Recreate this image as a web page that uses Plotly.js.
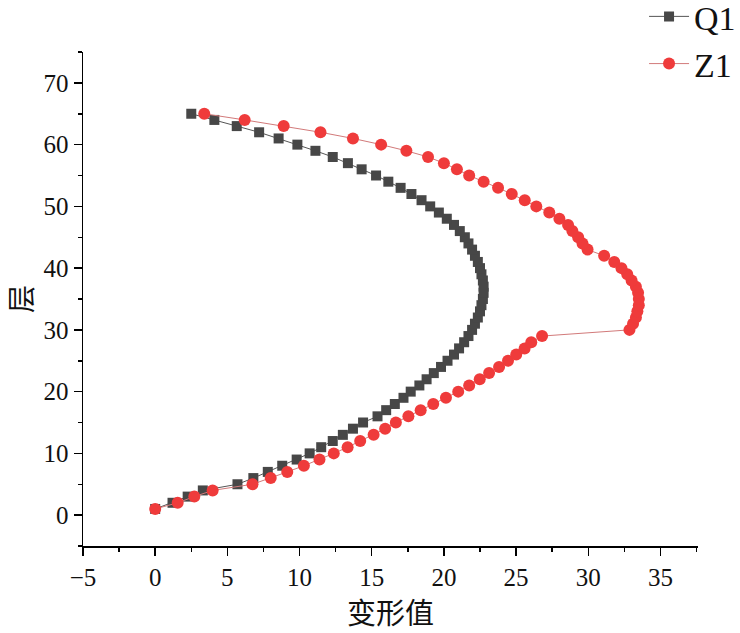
<!DOCTYPE html>
<html>
<head>
<meta charset="utf-8">
<script src="https://cdn.plot.ly/plotly-3.0.1.min.js"></script>
<style>html,body{margin:0;padding:0;background:#fff;}#chart{width:740px;height:633px;}</style>
</head>
<body>
<div id="chart"></div>
<script>
const layers = [];
for (let i = 1; i <= 65; i++) layers.push(i);

const q1Values = [0, 1.2, 2.25, 3.3, 5.7, 6.8, 7.8, 8.8, 9.8, 10.7,
  11.5, 12.3, 13.0, 13.7, 14.4, 15.4, 16.0, 16.6, 17.2, 17.7,
  18.3, 18.8, 19.3, 19.8, 20.25, 20.7, 21.05, 21.4, 21.7, 21.95,
  22.15, 22.35, 22.5, 22.6, 22.7, 22.75, 22.75, 22.7, 22.6, 22.5,
  22.35, 22.15, 21.95, 21.7, 21.45, 21.1, 20.7, 20.2, 19.65, 19.05,
  18.45, 17.75, 17.0, 16.15, 15.3, 14.3, 13.35, 12.3, 11.1, 9.85,
  8.55, 7.2, 5.65, 4.1, 2.5];

const z1Values = [0, 1.56, 2.71, 3.98, 6.74, 8.0, 9.15, 10.3, 11.38, 12.37,
  13.33, 14.2, 15.13, 15.93, 16.67, 17.54, 18.39, 19.26, 20.14, 20.99,
  21.75, 22.48, 23.13, 23.82, 24.44, 25.01, 25.59, 26.05, 26.8, 32.85,
  33.1, 33.3, 33.4, 33.5, 33.5, 33.45, 33.3, 33.0, 32.7, 32.3,
  31.8, 31.1, 29.95, 29.6, 29.3, 28.9, 28.6, 28.0, 27.3, 26.4,
  25.6, 24.7, 23.75, 22.75, 21.75, 20.9, 20.0, 18.9, 17.4, 15.65,
  13.7, 11.45, 8.9, 6.2, 3.4];

const seriesNames = ['Q1', 'Z1'];
const xTitle = '变形值';
const yTitle = '层';

const serif = '"Liberation Serif", "DejaVu Serif", serif';
const cjk = '"Noto Sans CJK SC", sans-serif';

const traces = [
  {
    x: q1Values, y: layers, name: seriesNames[0], type: 'scatter', mode: 'lines+markers',
    line: {color: '#555555', width: 1},
    marker: {symbol: 'square', size: 10, color: '#474747'}
  },
  {
    x: z1Values, y: layers, name: seriesNames[1], type: 'scatter', mode: 'lines+markers',
    line: {color: '#d27a7a', width: 1},
    marker: {symbol: 'circle', size: 12, color: '#ef3b3b'}
  }
];

const layout = {
  width: 740, height: 633,
  margin: {l: 83, r: 42, t: 52, b: 87, autoexpand: false},
  paper_bgcolor: '#ffffff', plot_bgcolor: '#ffffff',
  showlegend: true,
  legend: {
    x: 1.07, xanchor: 'right', y: 1.13, yanchor: 'top',
    font: {family: serif, size: 34, color: '#111'},
    bgcolor: 'rgba(0,0,0,0)', tracegroupgap: 0, itemwidth: 40
  },
  xaxis: {
    range: [-5, 37.6], tickvals: [-5, 0, 5, 10, 15, 20, 25, 30, 35],
    ticktext: ['\u22125', '0', '5', '10', '15', '20', '25', '30', '35'],
    showgrid: false, zeroline: false, showline: true, linecolor: '#000', linewidth: 1.5,
    ticks: 'outside', ticklen: 8, tickwidth: 1.5, tickcolor: '#000',
    minor: {dtick: 2.5, tick0: 0, ticks: 'outside', ticklen: 4, tickwidth: 1.5, tickcolor: '#000'},
    tickfont: {family: serif, size: 25, color: '#111'},
    title: {text: xTitle, font: {family: cjk, size: 29, color: '#111'}, standoff: 10}
  },
  yaxis: {
    range: [-5, 75], tickvals: [0, 10, 20, 30, 40, 50, 60, 70],
    showgrid: false, zeroline: false, showline: true, linecolor: '#000', linewidth: 1.5,
    ticks: 'outside', ticklen: 8, tickwidth: 1.5, tickcolor: '#000',
    minor: {dtick: 5, tick0: 0, ticks: 'outside', ticklen: 4, tickwidth: 1.5, tickcolor: '#000'},
    tickfont: {family: serif, size: 25, color: '#111'},
    title: {text: yTitle, font: {family: cjk, size: 28, color: '#111'}, standoff: 9}
  }
};

Plotly.newPlot('chart', traces, layout, {displayModeBar: false, staticPlot: true});
</script>
</body>
</html>
